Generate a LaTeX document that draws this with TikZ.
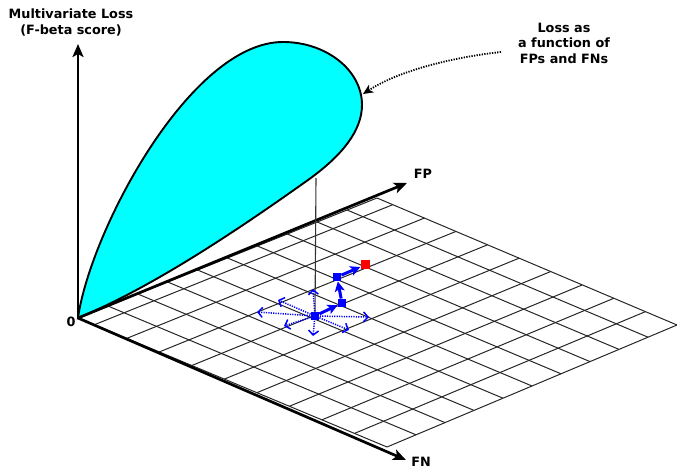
\documentclass[tikz,border=0pt]{standalone}
\usepackage{fontspec}
\setmainfont{DejaVu Sans}
\usetikzlibrary{arrows.meta,calc}
\definecolor{leafcyan}{RGB}{0,255,255}
\begin{document}
\begin{tikzpicture}[x=1pt,y=-1pt,
  lbl/.style={font=\bfseries\fontsize{12.8}{15.5}\selectfont, inner sep=0pt},
  gridline/.style={draw=black!85, line width=1pt},
  axisline/.style={line width=2.7pt, -{Stealth[length=13pt,width=11pt,inset=3pt]}},
  leaf/.style={draw=black, line width=1.9pt, fill=leafcyan},
  note/.style={line width=1.8pt, dash pattern=on 1.3pt off 1.3pt, -{Stealth[length=10pt,width=9pt,inset=2.5pt]}},
  bsq/.style={fill=blue, minimum size=8.5pt, inner sep=0pt},
  rsq/.style={fill=red, minimum size=9pt, inner sep=0pt},
  thickarrow/.style={draw=blue, line width=3pt, -{Stealth[length=10pt,width=10pt,inset=2.5pt]}},
  dotarrow/.style={draw=blue, line width=1.5pt, dash pattern=on 1.2pt off 1.2pt, -{Straight Barb[length=4.5pt,width=10pt]}},
  vline/.style={draw=black!80, line width=1.1pt}]
\useasboundingbox (0,0) rectangle (677,470);

% grid corners
\coordinate (O) at (78,318);
\coordinate (P) at (377,198);
\coordinate (N) at (387,447);
\coordinate (R) at (677,325);

% grid
\foreach \k in {0,...,10}
  \draw[gridline] ($(O)!\k/10!(P)$) -- ($(N)!\k/10!(R)$);
\foreach \j [evaluate=\j as \f using (\j+0.5)/9.5] in {0,...,9}
  \draw[gridline] ($(O)!\f!(N)$) -- ($(P)!\f!(R)$);
\draw[gridline] (O) -- (P);

% loss surface
\draw[leaf] (O) .. controls (90,232) and (190,42) .. (283,42)
  .. controls (326,42) and (362,70) .. (362,105)
  .. controls (362,130) and (343,155) .. (308,180)
  .. controls (228,237) and (148,289) .. (O) -- cycle;

% axes
\coordinate (Ztip) at (78,44);
\coordinate (FPtip) at (407,183);
\coordinate (FNtip) at (406,460);
\draw[axisline] (O) -- (Ztip);
\draw[axisline] (O) -- (FPtip);
\draw[axisline] (O) -- (FNtip);

% labels
\node[lbl, align=center, anchor=north] (ylab) at (71,9) {Multivariate Loss\\(F-beta score)};
\node[lbl, align=center, anchor=north] (nlab) at (564,22.5) {Loss as\\a function of\\FPs and FNs};
\node[lbl] (fp) at (423,174) {FP};
\node[lbl] (fn) at (421,462) {FN};
\node[lbl] (zero) at (71,322) {0};

% annotation arrow
\coordinate (nstart) at (501,52);
\coordinate (ntip) at (363,94);
\draw[note] (nstart) .. controls (455,57) and (400,70) .. (ntip);

% blue steps
\coordinate (c0p) at (315,316);
\coordinate (vtop) at (316,178);
\draw[vline] (vtop) -- (c0p);

\coordinate (d1) at (257,312);
\coordinate (d2) at (369,317);
\coordinate (d3) at (313,289);
\coordinate (d4) at (313,336);
\coordinate (d5) at (278,300);
\coordinate (d6) at (284,326);
\coordinate (d7) at (349,330);
\foreach \d in {d1,d2,d3,d4,d5,d6,d7}
  \draw[dotarrow] (c0p) -- (\d);

\node[bsq] (c0) at (c0p) {};
\node[bsq] (c1) at (342,303) {};
\node[bsq] (c2) at (337,277) {};
\node[rsq] (c3) at (365,265) {};
\draw[thickarrow] (c0) -- (c1);
\draw[thickarrow] (c1) -- (c2);
\draw[thickarrow] (c2) -- (c3);
\end{tikzpicture}
\end{document}
